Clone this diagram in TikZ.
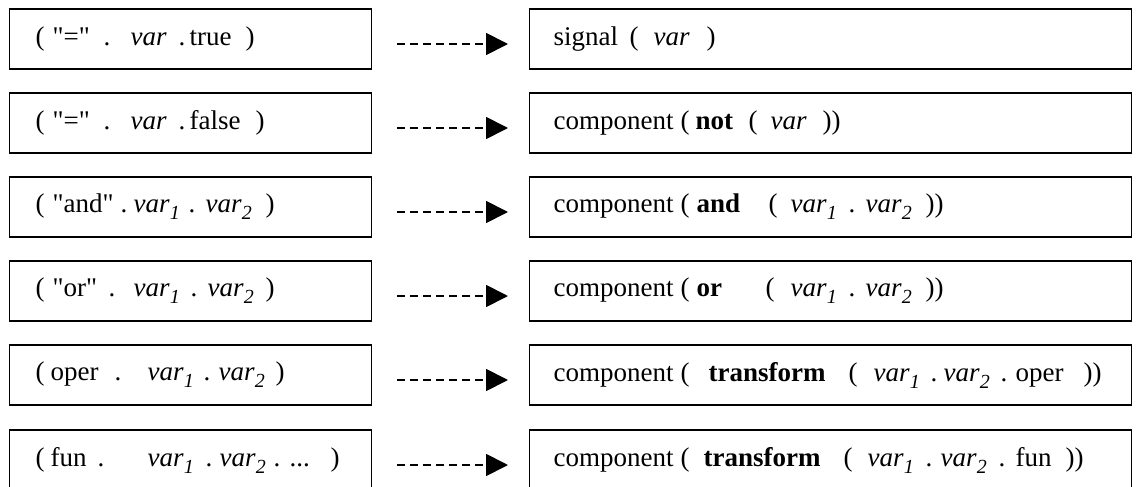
\documentclass[tikz,border=0pt]{standalone}
\usepackage{fontspec}
\setmainfont{Liberation Serif}
\usetikzlibrary{arrows.meta}
\newcommand\at[2]{\makebox[0pt][l]{\hspace*{#1pt}#2}}
\newcommand\q{\textquotedbl}
\newcommand\vv{\textit{var}}
\newcommand\vx[1]{\textit{var}\raisebox{-7pt}{\fontsize{20}{20}\selectfont\textit{#1}}}
\newcommand\rs{\vphantom{(}}
\begin{document}
\begin{tikzpicture}[x=1pt,y=-1pt,
  lbox/.style={draw, line width=1.4pt, anchor=west, minimum height=60pt,
    inner xsep=26pt, inner ysep=0pt, text width=310pt, align=left,
    font=\fontsize{27}{30}\selectfont},
  rbox/.style={draw, line width=1.4pt, anchor=west, minimum height=60pt,
    inner xsep=24pt, inner ysep=0pt, text width=554pt, align=left,
    font=\fontsize{27}{30}\selectfont},
  maparrow/.style={line width=1.8pt, dash pattern=on 8pt off 5pt,
    -{Triangle[length=22pt,width=22pt]}, shorten <=25pt, shorten >=21pt}]
\useasboundingbox (0,0) rectangle (1136,487);
\clip (0,0) rectangle (1136,487);
\fill[white] (0,0) rectangle (1136,487);

\node[lbox] (L1) at (9,39)  {\rs\at{0}{(}\at{17}{\q=\q}\at{68}{.}\at{95}{\vv}\at{143}{.}\at{154}{true}\at{210}{)}};
\node[lbox] (L2) at (9,123) {\rs\at{0}{(}\at{17}{\q=\q}\at{68}{.}\at{95}{\vv}\at{143}{.}\at{154}{false}\at{220}{)}};
\node[lbox] (L3) at (9,207) {\rs\at{0}{(}\at{17}{\q and\q}\at{85}{.}\at{98}{\vx{1}}\at{153}{.}\at{170}{\vx{2}}\at{230}{)}};
\node[lbox] (L4) at (9,291) {\rs\at{0}{(}\at{17}{\q or\q}\at{73}{.}\at{98}{\vx{1}}\at{155}{.}\at{172}{\vx{2}}\at{230}{)}};
\node[lbox] (L5) at (9,375) {\rs\at{0}{(}\at{15}{oper}\at{79}{.}\at{112}{\vx{1}}\at{168}{.}\at{183}{\vx{2}}\at{240}{)}};
\node[lbox] (L6) at (9,460) {\rs\at{0}{(}\at{15}{fun}\at{62}{.}\at{112}{\vx{1}}\at{170}{.}\at{184}{\vx{2}}\at{238}{.}\at{254}{...}\at{295}{)}};

\node[rbox] (R1) at (529,39)  {\rs\at{0}{signal}\at{76}{(}\at{100}{\vv}\at{153}{)}};
\node[rbox] (R2) at (529,123) {\rs\at{0}{component}\at{127}{(}\at{142}{\textbf{not}}\at{195}{(}\at{217}{\vv}\at{269}{))}};
\node[rbox] (R3) at (529,207) {\rs\at{0}{component}\at{127}{(}\at{143}{\textbf{and}}\at{215}{(}\at{237}{\vx{1}}\at{295}{.}\at{312}{\vx{2}}\at{372}{))}};
\node[rbox] (R4) at (529,291) {\rs\at{0}{component}\at{127}{(}\at{143}{\textbf{or}}\at{212}{(}\at{237}{\vx{1}}\at{295}{.}\at{312}{\vx{2}}\at{372}{))}};
\node[rbox] (R5) at (529,375) {\rs\at{0}{component}\at{127}{(}\at{155}{\textbf{transform}}\at{295}{(}\at{320}{\vx{1}}\at{377}{.}\at{390}{\vx{2}}\at{447}{.}\at{462}{oper}\at{530}{))}};
\node[rbox] (R6) at (529,460) {\rs\at{0}{component}\at{127}{(}\at{150}{\textbf{transform}}\at{290}{(}\at{314}{\vx{1}}\at{372}{.}\at{387}{\vx{2}}\at{445}{.}\at{462}{fun}\at{512}{))}};

\foreach \i in {1,...,6}
  \draw[maparrow] ([yshift=-5pt]L\i.east) -- ([yshift=-5pt]R\i.west);
\end{tikzpicture}
\end{document}
